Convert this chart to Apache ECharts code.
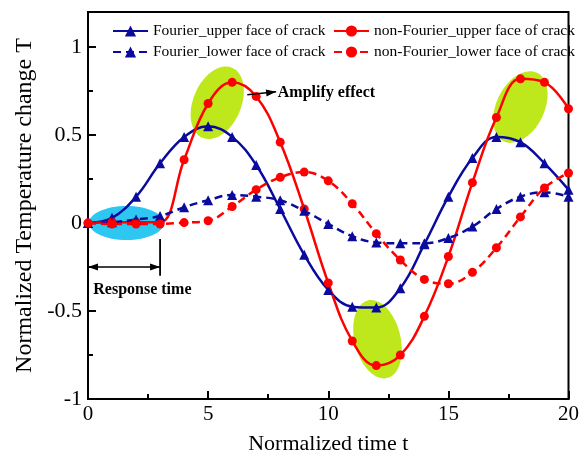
<!DOCTYPE html>
<html><head><meta charset="utf-8">
<script src="https://cdn.jsdelivr.net/npm/echarts@6/dist/echarts.min.js"></script>
<style>html,body{margin:0;padding:0;background:#fff}#c{width:582px;height:460px}</style>
</head><body><div id="c"></div>
<script>
// ---- data ----
const timeT = [0,1,2,3,4,5,6,7,8,9,10,11,12,13,14,15,16,17,18,19,20];
const fourierUpper    = [0,0.03,0.15,0.34,0.49,0.55,0.49,0.33,0.08,-0.18,-0.38,-0.475,-0.48,-0.37,-0.12,0.15,0.37,0.49,0.46,0.34,0.19];
const nonFourierUpper = [0,0.005,0.005,0.005,0.36,0.68,0.80,0.72,0.46,0.08,-0.34,-0.67,-0.81,-0.75,-0.53,-0.19,0.23,0.60,0.82,0.80,0.65];
const fourierLower    = [0,0.005,0.02,0.04,0.09,0.13,0.16,0.15,0.13,0.07,-0.005,-0.075,-0.11,-0.115,-0.115,-0.085,-0.02,0.08,0.15,0.175,0.15];
const nonFourierLower = [0,-0.005,-0.005,-0.005,0.003,0.013,0.094,0.19,0.26,0.29,0.24,0.11,-0.06,-0.21,-0.32,-0.345,-0.28,-0.14,0.035,0.20,0.285];
const seriesNames = ['Fourier_upper face of crack','non-Fourier_upper face of crack','Fourier_lower face of crack','non-Fourier_lower face of crack'];
const xTicks = [0,5,10,15,20];
const yTicks = [-1,-0.5,0,0.5,1];
const yMax = 1.2;
const xName = 'Normalized time t';
const yName = 'Normalized Temperature change T';

// ---- styles ----
const BLUE = '#0a0a9e', RED = '#ff0000', CYAN = '#2ec7f2', LIME = '#bee81c';
const FONT = '"Liberation Serif","Times New Roman",serif';

const chart = echarts.init(document.getElementById('c'), null, {renderer:'canvas'});
const pairs = arr => timeT.map((x,i)=>[x, arr[i]]);
function lineSeries(name, arr, color, symbol, dashed){
  return {
    name, type:'line', data: pairs(arr), smooth:0.4, symbol, showAllSymbol:true,
    symbolSize: symbol==='triangle'?10:9,
    lineStyle:{color, width:2.5, type: dashed?[8,5]:'solid'},
    itemStyle:{color}, emphasis:{disabled:true}, z:3
  };
}
const legendText = {fontFamily:FONT, fontSize:15.5, color:'#000'};
const option = {
  animation:false,
  backgroundColor:'#fff',
  grid:{left:88, right:11, top:12, bottom:59, show:true, borderColor:'#000', borderWidth:2, containLabel:false},
  legend:[
    {data:[seriesNames[0], seriesNames[2]], orient:'vertical', left:107, top:18, itemWidth:35, itemHeight:14, itemGap:5, textStyle:legendText, selectedMode:false},
    {data:[seriesNames[1], seriesNames[3]], orient:'vertical', left:328, top:18, itemWidth:35, itemHeight:14, itemGap:5, textStyle:legendText, selectedMode:false}
  ],
  xAxis:{
    type:'value', min:xTicks[0], max:xTicks[xTicks.length-1], interval:xTicks[1]-xTicks[0],
    name:xName, nameLocation:'middle', nameGap:34,
    nameTextStyle:{fontFamily:FONT, fontSize:22, color:'#000'},
    axisLine:{onZero:false, lineStyle:{color:'#000', width:2}},
    axisTick:{inside:true, length:8, lineStyle:{color:'#000', width:2}},
    minorTick:{show:true, splitNumber:2, length:5, lineStyle:{color:'#000', width:2}},
    axisLabel:{fontFamily:FONT, fontSize:21, color:'#000', margin:5},
    splitLine:{show:false}
  },
  yAxis:[{
    type:'value', min:yTicks[0], max:yMax, interval:yTicks[1]-yTicks[0],
    name:yName, nameLocation:'middle', nameGap:50,
    nameTextStyle:{fontFamily:FONT, fontSize:24, color:'#000'},
    axisLine:{onZero:false, lineStyle:{color:'#000', width:2}},
    axisTick:{inside:true, length:8, lineStyle:{color:'#000', width:2}},
    axisLabel:{fontFamily:FONT, fontSize:22, color:'#000', margin:6, showMaxLabel:false,
      formatter: v => yTicks.indexOf(v) >= 0 ? String(v) : ''},
    splitLine:{show:false}
  },{
    type:'value', min:yTicks[0], max:yMax, interval:(yTicks[1]-yTicks[0])/2, position:'left',
    axisLine:{show:false, onZero:false}, axisLabel:{show:false}, splitLine:{show:false},
    axisTick:{inside:true, length:5, lineStyle:{color:'#000', width:2}}
  }],
  series:[
    lineSeries(seriesNames[0], fourierUpper, BLUE, 'triangle', false),
    lineSeries(seriesNames[1], nonFourierUpper, RED, 'circle', false),
    lineSeries(seriesNames[2], fourierLower, BLUE, 'triangle', true),
    lineSeries(seriesNames[3], nonFourierLower, RED, 'circle', true)
  ]
};
chart.setOption(option);

// ---- annotations (anchored in data coordinates) ----
// angle: positive = major axis tilted up to the right (zrender rotation is counter-clockwise on screen)
const highlightEllipses = [
  {at:[1.6, 0], rx:37.5, ry:17, angle:0, color:CYAN},
  {at:[5.38, 0.684], rx:38, ry:24, angle:67, color:LIME},
  {at:[18.0, 0.66], rx:38, ry:24, angle:64, color:LIME},
  {at:[12.05, -0.66], rx:40, ry:23, angle:-76, color:LIME}
];
const amplifyArrow = {from:[6.63, 0.729], to:[7.83, 0.746]};
const amplifyLabel = {at:[7.9, 0.74], text:'Amplify effect'};
const responseArrow = {from:[0, -0.25], to:[3, -0.25]};
const responseBar = {from:[3, -0.09], to:[3, -0.30]};
const responseLabel = {at:[0.22, -0.38], text:'Response time'};

const P = p => chart.convertToPixel({gridIndex:0}, p);
function arrowHead(tip, tail){
  const dx = tip[0]-tail[0], dy = tip[1]-tail[1], L = Math.hypot(dx,dy);
  const ux = dx/L, uy = dy/L, len = 10, hw = 3.5;
  const bx = tip[0]-ux*len, by = tip[1]-uy*len;
  return {type:'polygon', z:10, silent:true,
    shape:{points:[tip, [bx-uy*hw, by+ux*hw], [bx+uy*hw, by-ux*hw]]}, style:{fill:'#000'}};
}
const g = [];
highlightEllipses.forEach(e=>{
  const c = P(e.at);
  g.push({type:'ellipse', x:c[0], y:c[1], rotation:e.angle*Math.PI/180, z:1, silent:true,
    shape:{cx:0, cy:0, rx:e.rx, ry:e.ry}, style:{fill:e.color}});
});
{
  const a = P(amplifyArrow.from), b = P(amplifyArrow.to);
  g.push({type:'line', z:10, silent:true, shape:{x1:a[0], y1:a[1], x2:b[0], y2:b[1]}, style:{stroke:'#000', lineWidth:1.5}});
  g.push(arrowHead(b, a));
  const t = P(amplifyLabel.at);
  g.push({type:'text', z:10, silent:true, x:t[0], y:t[1], style:{text:amplifyLabel.text, fontFamily:FONT, fontSize:16, fontWeight:'bold', fill:'#000', align:'left', verticalAlign:'middle'}});
}
{
  const a = P(responseArrow.from), b = P(responseArrow.to);
  g.push({type:'line', z:10, silent:true, shape:{x1:a[0], y1:a[1], x2:b[0], y2:b[1]}, style:{stroke:'#000', lineWidth:1.5}});
  g.push(arrowHead(b, a));
  g.push(arrowHead(a, b));
  const c = P(responseBar.from), d = P(responseBar.to);
  g.push({type:'line', z:10, silent:true, shape:{x1:c[0], y1:c[1], x2:d[0], y2:d[1]}, style:{stroke:'#000', lineWidth:1.8}});
  const t = P(responseLabel.at);
  g.push({type:'text', z:10, silent:true, x:t[0], y:t[1], style:{text:responseLabel.text, fontFamily:FONT, fontSize:16, fontWeight:'bold', fill:'#000', align:'left', verticalAlign:'middle'}});
}
chart.setOption({graphic:g});
</script>
</body></html>
